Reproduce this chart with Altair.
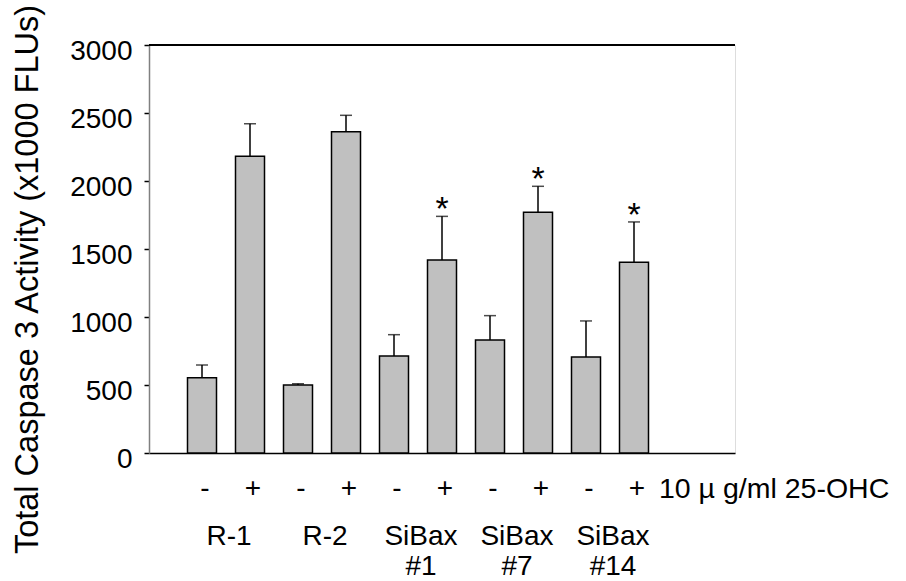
import altair as alt
import pandas as pd

# ---- data ----
conditions = ["-", "+", "-", "+", "-", "+", "-", "+", "-", "+"]
means = [554, 2182, 500, 2363, 713, 1419, 831, 1770, 706, 1402]
errors = [93, 239, 9, 120, 157, 321, 179, 191, 265, 297]
significant = [False, False, False, False, False, True, False, True, False, True]
groups = ["R-1", "R-2", "SiBax\n#1", "SiBax\n#7", "SiBax\n#14"]
treatment_label = "10  µ g/ml 25-OHC"
y_ticks = [0, 500, 1000, 1500, 2000, 2500, 3000]
y_title = "Total Caspase 3 Activity (x1000 FLUs)"

FONT = "Liberation Sans"

pos = list(range(1, len(means) + 1))
df = pd.DataFrame({
    "pos": pos,
    "mean": means,
    "top": [m + e for m, e in zip(means, errors)],
    "cond": conditions,
    "star": ["*" if s else "" for s in significant],
})
df_groups = pd.DataFrame({
    "pos": [1.5 + 2 * i for i in range(len(groups))],
    "label": groups,
})
df_treat = pd.DataFrame({"pos": [pos[-1]], "label": [treatment_label]})

xscale = alt.Scale(domain=[0, 12], nice=False, zero=False)
yscale = alt.Scale(domain=[0, 3000], nice=False)

xaxis = alt.Axis(labels=False, ticks=False, title=None, grid=False,
                 domainColor="black", domainWidth=1.5)
yaxis = alt.Axis(values=y_ticks, format="d", grid=False, domainColor="#808080", domainWidth=1.5,
                 tickColor="black", tickSize=5, tickWidth=1.5,
                 labelFontSize=28, labelFont=FONT, labelColor="black",
                 labelPadding=12, labelOffset=6,
                 title=y_title, titleFont=FONT, titleFontSize=32.5,
                 titleFontWeight="normal", titleColor="black",
                 titleAngle=270, titleX=-112, titleY=234,
                 titleAlign="center", titleBaseline="alphabetic")

base = alt.Chart(df)

bars = base.mark_bar(size=29, fill="#c0c0c0", stroke="black", strokeWidth=1.5).encode(
    x=alt.X("pos:Q", scale=xscale, axis=xaxis),
    y=alt.Y("mean:Q", scale=yscale, axis=yaxis),
)

stems = base.mark_rule(color="black", strokeWidth=1.5).encode(
    x="pos:Q", y="mean:Q", y2="top:Q"
)

caps = base.mark_tick(orient="horizontal", size=12, thickness=1.5, color="black").encode(
    x="pos:Q", y="top:Q"
)

stars = base.transform_filter(alt.datum.star == "*").mark_text(
    font=FONT, fontSize=34, baseline="alphabetic", dy=4, color="black"
).encode(x="pos:Q", y="top:Q", text="star:N")

signs = base.mark_text(font=FONT, fontSize=28, baseline="middle", dx=3, color="black").encode(
    x="pos:Q", y=alt.value(444), text="cond:N"
)

treat = alt.Chart(df_treat).mark_text(
    font=FONT, fontSize=28.5, baseline="middle", align="left", dx=25, color="black"
).encode(x="pos:Q", y=alt.value(444), text="label:N")

group_text = alt.Chart(df_groups).mark_text(
    font=FONT, fontSize=28, baseline="alphabetic", align="center", dx=3,
    lineBreak="\n", lineHeight=30, color="black"
).encode(x="pos:Q", y=alt.value(500), text="label:N")

top_border = alt.Chart(df).mark_rule(color="black", strokeWidth=1.5).encode(
    x=alt.value(0), x2=alt.value(586), y=alt.value(0)
)

chart = alt.layer(
    bars, stems, caps, stars, signs, treat, group_text, top_border
).properties(
    width=586, height=408,
    padding={"left": 149, "top": 45, "right": 171, "bottom": 128},
    autosize=alt.AutoSizeParams(type="none"),
    background="white",
).configure_view(
    stroke="#808080", strokeWidth=1.5
).configure(font=FONT)

chart.save("out.html", embed_options={"renderer": "svg", "actions": False})
